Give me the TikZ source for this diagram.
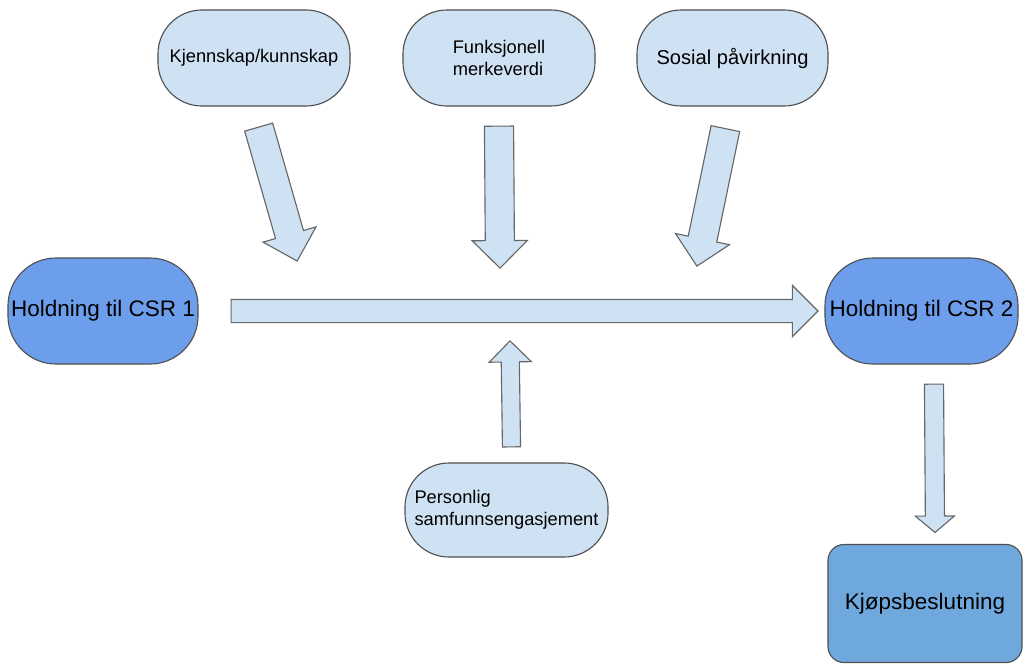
\documentclass[tikz,border=0pt]{standalone}
\usepackage{fontspec}
\setmainfont{Liberation Sans}
\usetikzlibrary{shapes.arrows,calc}

\definecolor{paleblue}{HTML}{CFE2F3}
\definecolor{midblue}{HTML}{6D9EEB}
\definecolor{deepblue}{HTML}{6FA8DC}
\definecolor{edgegray}{HTML}{505050}

% block arrow from one named point to another
\newcommand{\blockarrow}[3][]{%
  \path let \p1=(#2), \p2=(#3),
    \n1={atan2(\y2-\y1,\x2-\x1)}, \n2={veclen(\x2-\x1,\y2-\y1)} in
    node[fatarrow, #1, minimum height=\n2, rotate=\n1, anchor=tail] at (#2) {};}

\begin{document}
\begin{tikzpicture}[
        x=0.025cm, y=-0.025cm,
        factor/.style={
            rectangle,
            rounded corners=1.1cm,
            draw=edgegray,
            line width=0.8pt,
            fill=paleblue,
            minimum width=4.8cm,
            minimum height=2.4cm,
            inner sep=0pt,
            font=\fontsize{13}{15.6}\selectfont
        },
        attitude/.style={
            factor,
            rounded corners=1.2cm,
            fill=midblue,
            minimum height=2.65cm,
            font=\fontsize{16}{19}\selectfont
        },
        decision/.style={
            factor,
            rounded corners=0.4cm,
            fill=deepblue,
            minimum width=4.85cm,
            minimum height=2.95cm,
            font=\fontsize{16}{19}\selectfont
        },
        fatarrow/.style={
            single arrow,
            draw=black!60,
            line width=0.8pt,
            fill=paleblue,
            inner xsep=0pt,
            inner ysep=0.35cm,
            single arrow head extend=0.325cm,
            single arrow tip angle=90
        }
    ]
    \useasboundingbox (0,0) rectangle (1024,664);

    % Noder
    \node[factor] (kjenn) at (254,58) {Kjennskap/kunnskap};
    \node[factor, align=left] (funk) at (499,58) {Funksjonell\\merkeverdi};
    \node[factor, minimum width=4.775cm, font=\fontsize{14.3}{17}\selectfont] (sosial) at (732.5,58) {Sosial påvirkning};

    \node[attitude, minimum width=4.75cm] (hold1) at (103,311) {Holdning til CSR 1};
    \node[attitude, minimum width=4.825cm] (hold2) at (921.5,311) {Holdning til CSR 2};

    \node[factor, align=left, minimum width=5.075cm, minimum height=2.35cm] (pers) at (506.5,510) {Personlig\\samfunnsengasjement};
    \node[decision] (kjop) at (925,603.5) {Kjøpsbeslutning};

    % Endepunkter for pilene
    \coordinate (kjenn-out) at ([shift={(4.5,20)}]kjenn.south);
    \coordinate (kjenn-in)  at ([shift={(43,154)}]kjenn.south);
    \coordinate (funk-out)  at ([shift={(0,19)}]funk.south);
    \coordinate (funk-in)   at ([shift={(1,161)}]funk.south);
    \coordinate (sosial-out) at ([shift={(-7,21.5)}]sosial.south);
    \coordinate (sosial-in)  at ([shift={(-35.5,159)}]sosial.south);
    \coordinate (hold-out) at ([shift={(32,0)}]hold1.east);
    \coordinate (hold-in)  at ([shift={(-7,0)}]hold2.west);
    \coordinate (pers-out) at ([shift={(5,-15)}]pers.north);
    \coordinate (pers-in)  at ([shift={(3.5,-121)}]pers.north);
    \coordinate (kjop-out) at ([shift={(12.5,19)}]hold2.south);
    \coordinate (kjop-in)  at ([shift={(10,-12)}]kjop.north);

    % Piler
    \blockarrow{kjenn-out}{kjenn-in}
    \blockarrow{funk-out}{funk-in}
    \blockarrow{sosial-out}{sosial-in}
    \blockarrow[inner ysep=0.275cm, single arrow head extend=0.35cm]{hold-out}{hold-in}
    \blockarrow[inner ysep=0.2125cm, single arrow head extend=0.3cm]{pers-out}{pers-in}
    \blockarrow[inner ysep=0.225cm, single arrow head extend=0.25cm, single arrow tip angle=100]{kjop-out}{kjop-in}
\end{tikzpicture}
\end{document}
